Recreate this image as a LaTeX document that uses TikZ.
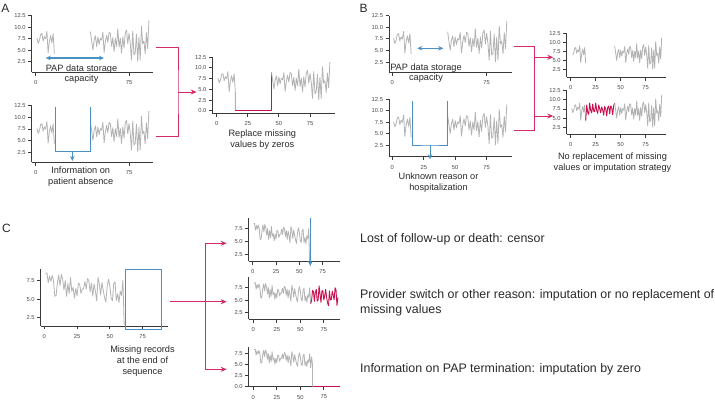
\documentclass[tikz,border=0pt]{standalone}
\usepackage{fontspec}
\setmainfont{Liberation Sans}
\usetikzlibrary{arrows.meta}
\definecolor{dgray}{HTML}{B3B3B3}
\definecolor{axc}{HTML}{3A3A3A}
\definecolor{tickc}{HTML}{4A4A4A}
\definecolor{bl}{HTML}{4A90C2}
\definecolor{pk}{HTML}{D42A66}
\definecolor{pkd}{HTML}{C8104E}
\definecolor{txt}{HTML}{2A2A2A}
\tikzset{
 ax/.style={draw=axc, line width=0.9pt},
 tlab/.style={font=\fontsize{5.8}{6}\selectfont, text=tickc, inner sep=0pt},
 ser/.style={draw=dgray, line width=0.8pt, line join=round},
 serp/.style={draw=pkd, line width=0.9pt, line join=round},
 lab/.style={font=\fontsize{9.2}{10.7}\selectfont, text=txt, inner sep=0pt, anchor=base},
 big/.style={font=\fontsize{12.4}{15.5}\selectfont, text=txt, inner sep=0pt, anchor=base west},
 letter/.style={font=\fontsize{12}{14}\selectfont, text=txt, inner sep=0pt},
 conn/.style={draw=pk, line width=1pt},
 pkarrow/.style={conn, -{Stealth[length=6pt,width=5pt]}},
 bline/.style={draw=bl, line width=1pt},
 barrow/.style={bline, -{Stealth[length=5pt,width=4.5pt]}},
 bdarrow/.style={bline, line width=1.1pt, {Stealth[length=5pt,width=4.5pt]}-{Stealth[length=5pt,width=4.5pt]}},
 declare function={
  hh(\qa,\qb)=mod(mod(97*\qa+\qb,101)*mod(53*\qa+3*\qb,89),103)/103;
  fa(\qa)=6.8+(2.6+0.06*max(\qa-55,0))*(2*hh(\qa,5)-1);
  fc(\qa)=7.1-0.02*\qa+1.7*(2*hh(\qa,17)-1);
  fb(\qa)=7.4+1.4*sin(118*\qa)+0.7*(2*hh(\qa,41)-1);
  fp(\qa)=6.0+1.5*sin(104*\qa)+0.7*(2*hh(\qa,29)-1)-3.0*(\qa==80);
 }
}
% #1 prefix, #2 idx position, #3 bottom value, #4 top value, #5 ticks
\newcommand\yax[5]{\draw[ax] (#2,#3) -- (#2,#4);
 \foreach \t [count=\k] in {#5}{\draw[ax] (#2,\t) -- ++(-3.5/\SX,0);
  \node[tlab,anchor=east] (#1y\k) at ({#2-5.8/\SX},\t) {\t};}}
% #1 prefix, #2 value position, #3 left idx, #4 right idx, #5 ticks
\newcommand\xax[5]{\draw[ax] (#3,#2) -- (#4,#2);
 \foreach \t [count=\k] in {#5}{\draw[ax] (\t,#2) -- ++(0,-3.5/\SY);
  \node[tlab] (#1x\k) at (\t,{#2-10.3/\SY}) {\t};}}
\begin{document}
\begin{tikzpicture}[x=1pt,y=-1pt]
\useasboundingbox (0,0) rectangle (715,400);
\fill[white] (0,0) rectangle (715,400);

\node[letter] (LA) at (5.5,8.3) {A};
\node[letter] (LB) at (363.5,8.3) {B};
\node[letter] (LC) at (6.5,228) {C};

% ---------- A top
\def\SX{1.244}\def\SY{4.62}
\begin{scope}[shift={(35.7,73.4)},xscale=\SX,yscale=-\SY]
 \draw[ser] plot[samples at={1,...,15}] (\x,{fa(\x)});
 \draw[ser] plot[samples at={44,...,91}] (\x,{fa(\x)});
 \yax{pa}{-3.2}{0.24}{12.5}{2.5,5.0,7.5,10.0,12.5}
 \xax{pa}{0.24}{-3.2}{94.3}{0,75}
\end{scope}
% ---------- A bottom
\begin{scope}[shift={(35.7,163.6)},xscale=\SX,yscale=-\SY]
 \draw[ser] plot[samples at={1,...,15}] (\x,{fa(\x)});
 \draw[ser] plot[samples at={44,...,91}] (\x,{fa(\x)});
 \yax{pb}{-3.2}{0.28}{12.5}{2.5,5.0,7.5,10.0,12.5}
 \xax{pb}{0.28}{-3.2}{94.3}{0,75}
\end{scope}
% ---------- A right
\def\SX{1.244}\def\SY{4.28}
\begin{scope}[shift={(216.7,110.7)},xscale=\SX,yscale=-\SY]
 \draw[ser] plot[samples at={1,...,15}] (\x,{fa(\x)}) -- (15,0);
 \draw[serp] (15,0) -- (44,0) -- (44,{fa(44)});
 \draw[ser] plot[samples at={44,...,91}] (\x,{fa(\x)});
 \yax{pc}{-3.5}{-0.6}{12.5}{0.0,2.5,5.0,7.5,10.0,12.5}
 \xax{pc}{-0.6}{-3.5}{95}{0,25,50,75}
\end{scope}
% ---------- B top left
\def\SX{1.258}\def\SY{4.63}
\begin{scope}[shift={(392.3,73.6)},xscale=\SX,yscale=-\SY]
 \draw[ser] plot[samples at={1,...,15}] (\x,{fa(\x)});
 \draw[ser] plot[samples at={44,...,91}] (\x,{fa(\x)});
 \yax{pd}{-2.6}{0.28}{12.5}{2.5,5.0,7.5,10.0,12.5}
 \xax{pd}{0.28}{-2.6}{94.9}{0,75}
\end{scope}
% ---------- B bottom left
\def\SX{1.258}\def\SY{4.6}
\begin{scope}[shift={(392.3,156.8)},xscale=\SX,yscale=-\SY]
 \draw[ser] plot[samples at={1,...,15}] (\x,{fa(\x)});
 \draw[ser] plot[samples at={44,...,91}] (\x,{fa(\x)});
 \yax{pe}{-2.6}{0}{12.5}{2.5,5.0,7.5,10.0,12.5}
 \xax{pe}{0}{-2.6}{94.9}{0,25,50,75}
\end{scope}
% ---------- B right top
\def\SX{1.0}\def\SY{3.62}
\begin{scope}[shift={(570.7,78.7)},xscale=\SX,yscale=-\SY]
 \draw[ser] plot[samples at={2,...,15}] (\x,{fa(\x)});
 \draw[ser] plot[samples at={44,...,91}] (\x,{fa(\x)});
 \yax{pf}{-4}{0.39}{12.5}{2.5,5.0,7.5,10.0,12.5}
 \xax{pf}{0.39}{-4}{95.3}{0,25,50,75}
\end{scope}
% ---------- B right bottom
\def\SX{1.0}\def\SY{3.67}
\begin{scope}[shift={(570.7,136.5)},xscale=\SX,yscale=-\SY]
 \draw[ser] plot[samples at={1,...,15}] (\x,{fa(\x)});
 \draw[serp] (15,{fa(15)}) -- plot[samples at={16,...,43}] (\x,{fb(\x)}) -- (44,{fa(44)});
 \draw[ser] plot[samples at={44,...,91}] (\x,{fa(\x)});
 \yax{pg}{-4}{0.6}{12.5}{2.5,5.0,7.5,10.0,12.5}
 \xax{pg}{0.6}{-4}{95.3}{0,25,50,75}
\end{scope}
% ---------- C left
\def\SX{1.31}\def\SY{7.4}
\begin{scope}[shift={(44.3,336.2)},xscale=\SX,yscale=-\SY]
 \draw[ser] plot[samples at={1,...,60}] (\x,{fc(\x)}) -- (61,1.45);
 \yax{ph}{-2.75}{1.38}{9.04}{2.5,5.0,7.5}
 \xax{ph}{1.38}{-2.75}{94.2}{0,25,50,75}
\end{scope}
% ---------- C right top
\def\SX{0.933}\def\SY{5.12}
\begin{scope}[shift={(252.7,267.1)},xscale=\SX,yscale=-\SY]
 \draw[ser] plot[samples at={1,...,60}] (\x,{fc(\x)}) -- (61,1.2);
 \yax{pi}{-4.3}{1.19}{9.53}{2.5,5.0,7.5}
 \xax{pi}{1.19}{-4.3}{93.6}{0,25,50,75}
\end{scope}
% ---------- C right middle
\def\SX{0.94}\def\SY{4.92}
\begin{scope}[shift={(253.3,324.6)},xscale=\SX,yscale=-\SY]
 \draw[ser] plot[samples at={1,...,61}] (\x,{fc(\x)});
 \draw[serp] (61,{fc(61)}) -- plot[samples at={62,...,90}] (\x,{fp(\x)});
 \yax{pj}{-4.9}{1.08}{9.74}{2.5,5.0,7.5}
 \xax{pj}{1.08}{-4.9}{92.2}{0,25,50,75}
\end{scope}
% ---------- C right bottom
\def\SX{0.94}\def\SY{4.4}
\begin{scope}[shift={(253.3,386.7)},xscale=\SX,yscale=-\SY]
 \yax{pk}{-4.9}{0}{8.95}{0.0,2.5,5.0,7.5}
 \xax{pk}{0}{-4.9}{92.2}{0,25,50,75}
 \draw[ser] plot[samples at={1,...,63}] (\x,{fc(\x)}) -- (63,0);
 \draw[serp] (63,0) -- (92.2,0);
\end{scope}

% ---------- blue annotations
\coordinate (ad1) at (45.7,58); \coordinate (ad2) at (104,58);
\draw[bdarrow] (ad1) -- (ad2);
\coordinate (ab1) at (55.3,106.7); \coordinate (ab2) at (90.3,106.7);
\coordinate (ab3) at (72.3,151.7); \coordinate (ab4) at (72.3,161);
\draw[bline] (ab1) |- (ab3) -| (ab2);
\draw[barrow] (ab3) -- (ab4);

\coordinate (bd1) at (417.3,48.3); \coordinate (bd2) at (443.3,48.3);
\draw[bdarrow] (bd1) -- (bd2);
\coordinate (bb1) at (412.7,101); \coordinate (bb2) at (447.7,101);
\coordinate (bb3) at (430,145); \coordinate (bb4) at (430,159.3);
\draw[bline] (bb1) |- (bb3) -| (bb2);
\draw[barrow] (bb3) -- (bb4);

\coordinate (cr1) at (125,269.3); \coordinate (cr2) at (161.7,329.3);
\draw[bline] (cr1) rectangle (cr2);
\coordinate (ca1) at (310.3,218.3); \coordinate (ca2) at (310.3,266);
\draw[barrow] (ca1) -- (ca2);

% ---------- pink connectors
\coordinate (aT) at (156,47); \coordinate (aB) at (156,136.3);
\coordinate (aM) at (178,92); \coordinate (aTip) at (196.7,92);
\draw[conn] (aT) -| (aM) |- (aB);
\draw[pkarrow] (aM) -- (aTip);

\coordinate (bT) at (514,46.7); \coordinate (bB) at (514,130.3);
\coordinate (bM1) at (534.3,57.3); \coordinate (bM2) at (534.3,116);
\coordinate (bTip1) at (553.3,57.3); \coordinate (bTip2) at (553.3,116);
\draw[conn] (bT) -| (bM1) -- (bM2) |- (bB);
\draw[pkarrow] (bM1) -- (bTip1);
\draw[pkarrow] (bM2) -- (bTip2);

\coordinate (cS) at (170,301.7); \coordinate (cTip2) at (226.7,301.7);
\coordinate (cV1) at (205.7,243.3); \coordinate (cV3) at (205.7,369.3);
\coordinate (cTip1) at (226.7,243.3); \coordinate (cTip3) at (226.7,369.3);
\draw[pkarrow] (cS) -- (cTip2);
\draw[conn, {Stealth[length=6pt,width=5pt]}-{Stealth[length=6pt,width=5pt]}] (cTip1) -- (cV1) -- (cV3) -- (cTip3);

% ---------- labels
\node[lab] (capA1) at (81.5,71) {PAP data storage};
\node[lab] (capA2) at (81.5,81.7) {capacity};
\node[lab] (infA1) at (80.7,173.7) {Information on};
\node[lab] (infA2) at (80.7,184.3) {patient absence};
\node[lab] (repA1) at (262.3,136.7) {Replace missing};
\node[lab] (repA2) at (262.3,147.3) {values by zeros};
\node[lab] (capB1) at (426,70) {PAP data storage};
\node[lab] (capB2) at (426,80.7) {capacity};
\node[lab] (unkB1) at (438.5,179.3) {Unknown reason or};
\node[lab] (unkB2) at (438.5,190) {hospitalization};
\node[lab] (noB1) at (612.5,159.3) {No replacement of missing};
\node[lab] (noB2) at (612.5,170) {values or imputation strategy};
\node[lab] (misC1) at (142.5,352.7) {Missing records};
\node[lab] (misC2) at (142.5,363.3) {at the end of};
\node[lab] (misC3) at (142.5,374) {sequence};
\node[big] (t1) at (360,242.5) {Lost of follow-up or death: censor};
\node[big] (t2) at (360,298) {Provider switch or other reason: imputation or no replacement of};
\node[big] (t3) at (360,313.5) {missing values};
\node[big] (t4) at (360,372.5) {Information on PAP termination: imputation by zero};
\end{tikzpicture}
\end{document}
